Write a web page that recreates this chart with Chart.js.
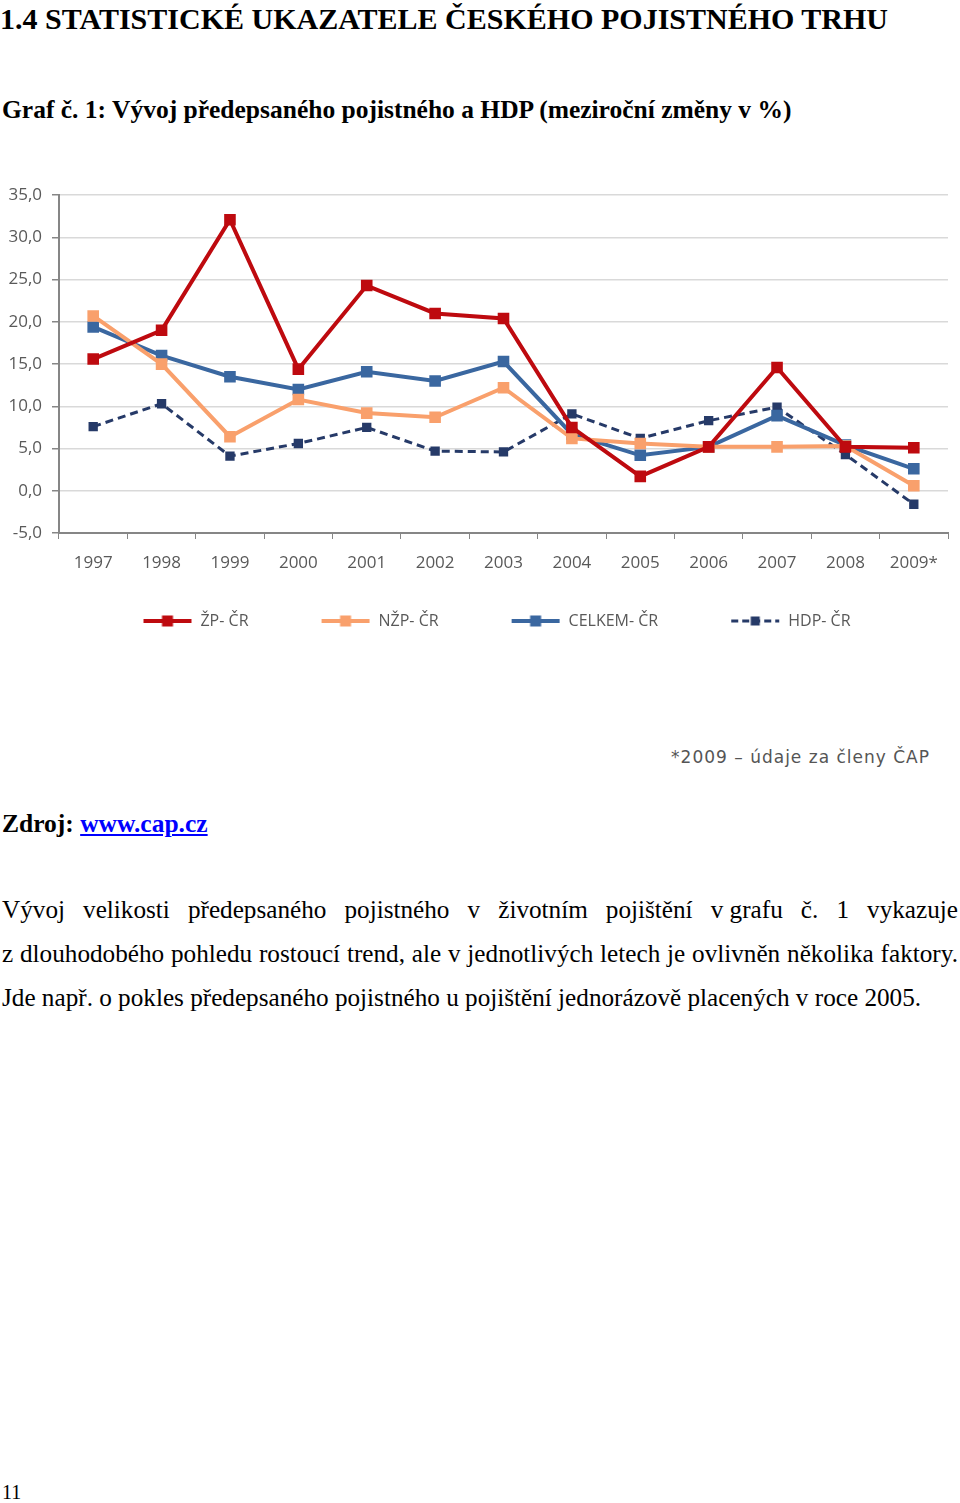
<!DOCTYPE html>
<html>
<head>
<meta charset="utf-8">
<script src="https://cdn.jsdelivr.net/npm/chart.js@4.4.1/dist/chart.umd.min.js"></script>
<style>
  body { margin: 0; background: #fff; width: 960px; height: 1503px; position: relative; overflow: hidden; font-family: "Liberation Serif", "Times New Roman", serif; color: #000; }
  .abs { position: absolute; white-space: nowrap; line-height: 1; }
  #heading { left: 0; top: 4px; font-size: 30px; font-weight: bold; }
  #graf { left: 2px; top: 97px; font-size: 25.5px; font-weight: bold; }
  #zdroj { left: 2px; top: 811px; font-size: 25.5px; font-weight: bold; }
  #zdroj a { color: #0000ff; text-decoration: underline; }
  #chartBox { position: absolute; left: 0; top: 175px; width: 960px; height: 464px; }
  #note { right: 30px; top: 749px; font-family: "DejaVu Sans", sans-serif; font-size: 17px; letter-spacing: 1px; color: #555; }
  .para { position: absolute; left: 2px; width: 956px; font-size: 25.2px; line-height: 1; white-space: normal; }
  .just { text-align: justify; text-align-last: justify; }
  .tight { display: inline-block; }
  #pnum { left: 2px; top: 1482px; font-size: 20px; }
</style>
</head>
<body>
<div id="heading" class="abs">1.4 STATISTICKÉ UKAZATELE ČESKÉHO POJISTNÉHO TRHU</div>
<div id="graf" class="abs">Graf č. 1: Vývoj předepsaného pojistného a HDP (meziroční změny v %)</div>
<div id="chartBox"><canvas id="lineChart"></canvas></div>
<div id="note" class="abs">*2009 – údaje za členy ČAP</div>
<div id="zdroj" class="abs">Zdroj: <a href="#">www.cap.cz</a></div>
<div class="para just" style="top:897px">Vývoj velikosti předepsaného pojistného v životním pojištění <span class="tight">v grafu</span> č. 1 vykazuje</div>
<div class="para just" style="top:941px">z dlouhodobého pohledu rostoucí trend, ale v jednotlivých letech je ovlivněn několika faktory.</div>
<div class="para" style="top:985px">Jde např. o pokles předepsaného pojistného u pojištění jednorázově placených v roce 2005.</div>
<div id="pnum" class="abs">11</div>

<script>
// Data (meziroční změny v %)
const years = ['1997', '1998', '1999', '2000', '2001', '2002', '2003', '2004', '2005', '2006', '2007', '2008', '2009*'];
const zpCR = [15.6, 19.0, 32.1, 14.4, 24.3, 21.0, 20.4, 7.5, 1.7, 5.2, 14.6, 5.2, 5.1];
const nzpCR = [20.7, 15.0, 6.4, 10.8, 9.2, 8.7, 12.2, 6.2, 5.6, 5.2, 5.2, 5.3, 0.6];
const celkemCR = [19.4, 16.0, 13.5, 12.0, 14.1, 13.0, 15.3, 6.7, 4.2, 5.2, 8.9, 5.4, 2.6];
const hdpCR = [7.6, 10.3, 4.1, 5.6, 7.5, 4.7, 4.6, 9.1, 6.2, 8.3, 9.9, 4.3, -1.6];
const yTicks = [-5, 0, 5, 10, 15, 20, 25, 30, 35];

const C_RED = '#be0a0f';
const C_ORANGE = '#f9a06c';
const C_BLUE = '#3a67a0';
const C_NAVY = '#263a68';

// legend sample: empty lead-in, then line with a square marker
const LEGEND_LEAD = 45;
function legendIcon(color, dashed, sq) {
    const c = document.createElement('canvas');
    c.width = LEGEND_LEAD + 50; c.height = 14;
    const g = c.getContext('2d');
    const x0 = LEGEND_LEAD;
    g.strokeStyle = color;
    g.lineWidth = dashed ? 3 : 4;
    if (dashed) g.setLineDash([7, 4]);
    g.beginPath(); g.moveTo(x0 + 1, 7); g.lineTo(x0 + 49, 7); g.stroke();
    g.fillStyle = color;
    g.fillRect(x0 + 25 - sq / 2, 7 - sq / 2, sq, sq);
    return c;
}

function series(label, data, color, dashed) {
    return {
        label,
        data,
        borderColor: color,
        backgroundColor: color,
        borderWidth: dashed ? 3 : 4,
        borderDash: dashed ? [8, 5] : [],
        pointStyle: 'rect',
        pointRadius: dashed ? 6.6 : 8.2,
        pointHoverRadius: dashed ? 6.6 : 8.2,
        pointBorderWidth: 0,
        tension: 0,
        fill: false,
        legendIcon: legendIcon(color, dashed, dashed ? 9 : 11)
    };
}

const fmt = v => v.toFixed(1).replace('.', ',');
const tickFont = { family: 'Open Sans', size: 17 };

new Chart(document.getElementById('lineChart'), {
    type: 'line',
    data: {
        labels: years,
        datasets: [
            series('ŽP- ČR', zpCR, C_RED, false),
            series('NŽP- ČR', nzpCR, C_ORANGE, false),
            series('CELKEM- ČR', celkemCR, C_BLUE, false),
            series('HDP- ČR', hdpCR, C_NAVY, true)
        ]
    },
    options: {
        responsive: true,
        maintainAspectRatio: false,
        animation: false,
        layout: { padding: { top: 15, right: 12, bottom: 0, left: 0 } },
        plugins: {
            tooltip: { enabled: false },
            legend: {
                position: 'bottom',
                labels: {
                    font: { family: 'Open Sans', size: 16 },
                    color: '#595959',
                    padding: 27,
                    usePointStyle: true,
                    pointStyleWidth: LEGEND_LEAD + 50,
                    generateLabels(chart) {
                        return chart.data.datasets.map((ds, i) => ({
                            text: ds.label,
                            pointStyle: ds.legendIcon,
                            fillStyle: ds.borderColor,
                            strokeStyle: ds.borderColor,
                            fontColor: '#595959',
                            lineWidth: 0,
                            datasetIndex: i,
                            hidden: false
                        }));
                    }
                }
            }
        },
        scales: {
            x: {
                offset: true,
                grid: { offset: true, drawOnChartArea: false, drawTicks: true, tickLength: 6, tickColor: '#868686' },
                border: { color: '#868686', width: 2 },
                ticks: { font: tickFont, color: '#595959', padding: 14, maxRotation: 0, autoSkip: false },
                afterFit(s) { s.height = 53; }
            },
            y: {
                min: yTicks[0],
                max: yTicks[yTicks.length - 1],
                afterBuildTicks(s) { s.ticks = yTicks.map(v => ({ value: v })); },
                grid: { color: '#d9d9d9', lineWidth: 1.5, tickLength: 7, tickColor: '#868686' },
                border: { color: '#868686', width: 2 },
                ticks: { font: tickFont, color: '#595959', padding: 10, callback: v => fmt(v) },
                afterFit(s) { s.width = 59; }
            }
        }
    }
});
</script>
</body>
</html>
